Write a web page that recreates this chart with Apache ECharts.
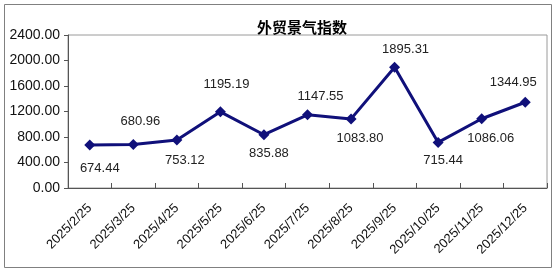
<!DOCTYPE html>
<html><head><meta charset="utf-8">
<script src="https://cdn.jsdelivr.net/npm/echarts@6/dist/echarts.min.js"></script>
<style>html,body{margin:0;padding:0;background:#fff}#c{width:554px;height:270px}</style>
</head><body><div id="c"></div>
<script>
const title = '外贸景气指数';
const categories = ['2025/2/25','2025/3/25','2025/4/25','2025/5/25','2025/6/25','2025/7/25','2025/8/25','2025/9/25','2025/10/25','2025/11/25','2025/12/25'];
const values = [674.44, 680.96, 753.12, 1195.19, 835.88, 1147.55, 1083.80, 1895.31, 715.44, 1086.06, 1344.95];
const labelPos = ['bottom','top','bottom','top','bottom','top','bottom','top','bottom','bottom','top'];
const labelShift = [[10,3],[7,-3],[8,0],[6,-7],[5,-1],[13,2],[9,0],[11,2],[5,-2],[9,0],[-12,0]];
const yMin = 0, yMax = 2400, yStep = 400;

const chart = echarts.init(document.getElementById('c'));
chart.setOption({
  animation: false,
  backgroundColor: '#fff',
  title: {
    text: title, left: 252, top: 15,
    textStyle: {fontFamily: 'Noto Sans CJK SC', fontSize: 15, fontWeight: 'bold', color: '#000'}
  },
  graphic: [{
    type: 'rect', left: 2, top: 2, shape: {width: 547, height: 263},
    style: {fill: 'none', stroke: '#808080', lineWidth: 1}, silent: true
  }],
  grid: {left: 68, right: 7, top: 35, bottom: 82, show: true, borderColor: '#9a9a9a', borderWidth: 1},
  xAxis: {
    type: 'category', data: categories, boundaryGap: true,
    axisLine: {lineStyle: {color: '#555', width: 1}},
    axisTick: {show: true, inside: true, length: 5, lineStyle: {color: '#555'}},
    axisLabel: {rotate: 45, margin: 18, fontFamily: 'Liberation Sans', fontSize: 13, color: '#111', interval: 0},
    splitLine: {show: false}
  },
  yAxis: {
    type: 'value', min: yMin, max: yMax, interval: yStep,
    axisLine: {show: true, lineStyle: {color: '#555', width: 1}},
    axisTick: {show: true, length: 4, lineStyle: {color: '#555'}},
    axisLabel: {fontFamily: 'Liberation Sans', fontSize: 14, color: '#111', margin: 8,
      formatter: v => v.toFixed(2)},
    splitLine: {show: false}
  },
  series: [{
    type: 'line',
    data: values.map((v, i) => ({value: v, label: {position: labelPos[i], offset: labelShift[i]}})),
    symbol: 'diamond', symbolSize: 11,
    lineStyle: {color: '#10107a', width: 3},
    itemStyle: {color: '#10107a'},
    label: {show: true, distance: 8, fontFamily: 'Liberation Sans', fontSize: 13, color: '#222',
      formatter: p => p.value.toFixed(2)}
  }]
});
</script></body></html>
